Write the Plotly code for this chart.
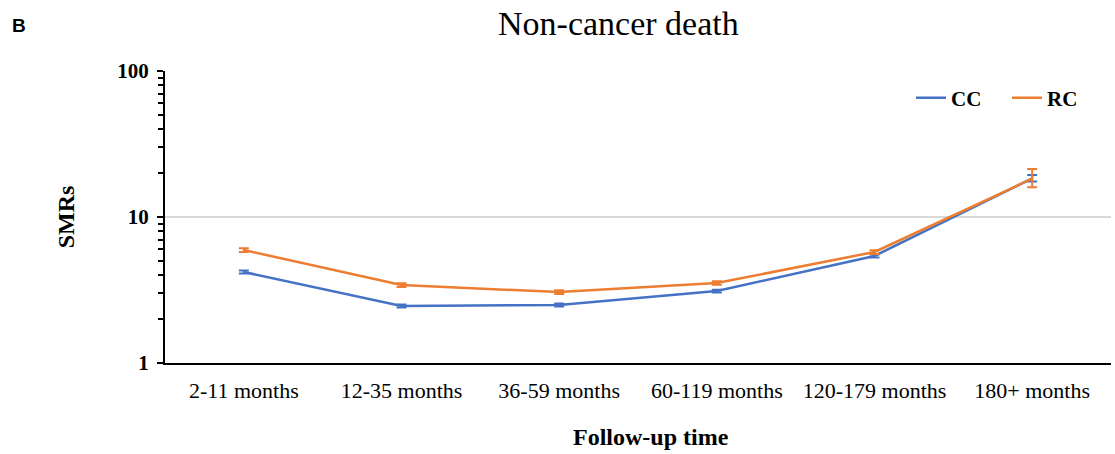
import plotly.graph_objects as go

categories = ["2-11 months", "12-35 months", "36-59 months", "60-119 months", "120-179 months", "180+ months"]
cc_values = [4.2, 2.46, 2.5, 3.11, 5.41, 18.4]
cc_err_plus = [0.1, 0.06, 0.06, 0.07, 0.13, 1.0]
cc_err_minus = [0.1, 0.06, 0.06, 0.07, 0.13, 0.9]
rc_values = [5.94, 3.42, 3.06, 3.53, 5.76, 18.3]
rc_err_plus = [0.18, 0.1, 0.09, 0.1, 0.17, 3.0]
rc_err_minus = [0.18, 0.1, 0.09, 0.1, 0.17, 2.3]

BLUE = "#4472C4"
ORANGE = "#ED7D31"
SERIF = "Liberation Serif, Times New Roman, serif"

W, H = 1115, 454
ML, MR, MT, MB = 165, 4, 71, 91

fig = go.Figure()
fig.add_trace(go.Scatter(
    x=categories, y=cc_values, name="CC", mode="lines",
    line=dict(color=BLUE, width=2.5),
    error_y=dict(type="data", symmetric=False, array=cc_err_plus, arrayminus=cc_err_minus,
                 color=BLUE, thickness=2, width=5),
))
fig.add_trace(go.Scatter(
    x=categories, y=rc_values, name="RC", mode="lines",
    line=dict(color=ORANGE, width=2.5),
    error_y=dict(type="data", symmetric=False, array=rc_err_plus, arrayminus=rc_err_minus,
                 color=ORANGE, thickness=2, width=5),
))

plot_w = W - ML - MR
plot_h = H - MT - MB


def px_to_paper(px, py):
    return (px - ML) / plot_w, (H - MB - py) / plot_h


tx, ty = px_to_paper(618, 23)
bx, by = px_to_paper(18.5, 26)
lx, ly = px_to_paper(911, 98)
fx, fy = px_to_paper(651, 437)

fig.update_layout(
    width=W, height=H,
    margin=dict(l=ML, r=MR, t=MT, b=MB),
    paper_bgcolor="white", plot_bgcolor="white",
    font=dict(family=SERIF, size=20, color="black"),
    showlegend=True,
    legend=dict(orientation="h", x=lx, y=ly, xanchor="left", yanchor="middle",
                font=dict(family=SERIF, size=21, color="black", weight="bold"),
                bgcolor="rgba(0,0,0,0)", entrywidth=51, entrywidthmode="pixels"),
    annotations=[
        dict(text="Non-cancer death", x=tx, y=ty, xref="paper", yref="paper",
             xanchor="center", yanchor="middle",
             showarrow=False, font=dict(family=SERIF, size=34, color="black")),
        dict(text="<b>B</b>", x=bx, y=by, xref="paper", yref="paper",
             xanchor="center", yanchor="middle",
             showarrow=False, font=dict(family="Liberation Sans, Arial, sans-serif", size=19, color="black")),
        dict(text="<b>Follow-up time</b>", x=fx, y=fy, xref="paper", yref="paper",
             xanchor="center", yanchor="middle",
             showarrow=False, font=dict(family=SERIF, size=24, color="black")),
    ],
    xaxis=dict(
        type="category", showline=True, linecolor="black", linewidth=2,
        ticks="", showgrid=False, zeroline=False,
        tickfont=dict(family=SERIF, size=22, color="black"),
        ticklabelstandoff=7,
        range=[-0.5, 5.5],
    ),
    yaxis=dict(
        type="log", range=[0, 2], tickvals=[1, 10, 100], ticktext=["<b>1</b>", "<b>10</b>", "<b>100</b>"],
        showline=True, linecolor="black", linewidth=2,
        ticks="outside", ticklen=6, tickwidth=2, tickcolor="black",
        showgrid=True, gridcolor="#D9D9D9", gridwidth=2, zeroline=False,
        tickfont=dict(family=SERIF, size=21, color="black"),
        ticklabelstandoff=4,
        minor=dict(ticks="outside", ticklen=5, tickwidth=1.5, tickcolor="black", showgrid=False,
                   tickvals=[2, 3, 4, 5, 6, 7, 8, 9, 20, 30, 40, 50, 60, 70, 80, 90]),
        title=dict(text="<b>SMRs</b>", font=dict(family=SERIF, size=24, color="black"), standoff=36),
    ),
)

fig.write_html("out.html", config={"displayModeBar": False},
               post_script="document.body.style.margin='0';")
